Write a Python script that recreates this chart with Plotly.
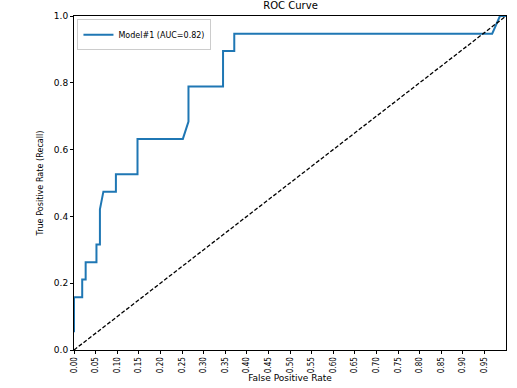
import plotly.graph_objects as go

fpr = [0.0, 0.0, 0.0, 0.019, 0.019, 0.027, 0.027, 0.052, 0.052, 0.060, 0.060, 0.068,
       0.097, 0.097, 0.147, 0.147, 0.252, 0.265, 0.265, 0.345, 0.345, 0.371, 0.371,
       0.968, 0.986, 1.0]
tpr = [0.0, 0.053, 0.158, 0.158, 0.211, 0.211, 0.263, 0.263, 0.316, 0.316, 0.421, 0.474,
       0.474, 0.526, 0.526, 0.632, 0.632, 0.684, 0.789, 0.789, 0.895, 0.895, 0.947,
       0.947, 1.0, 1.0]
diag_x = [0.0, 1.0]
diag_y = [0.0, 1.0]
x_ticks = [round(i * 0.05, 2) for i in range(20)]
y_ticks = [0.0, 0.2, 0.4, 0.6, 0.8, 1.0]

fig = go.Figure()
fig.add_trace(go.Scatter(x=fpr[1:], y=tpr[1:], mode="lines", name="Model#1 (AUC=0.82)",
                         line=dict(color="#1f77b4", width=2)))
fig.add_trace(go.Scatter(x=diag_x, y=diag_y, mode="lines", showlegend=False,
                         line=dict(color="black", width=1.3, dash="4px,2px")))

font = "DejaVu Sans"
fig.update_layout(
    width=517, height=388,
    margin=dict(l=74, r=11, t=16, b=38, autoexpand=False),
    paper_bgcolor="white", plot_bgcolor="white",
    font=dict(family=font, size=9, color="black"),
    title=dict(text="ROC Curve", x=0.562, xanchor="center", y=0.986, yanchor="middle",
               pad=dict(t=0, b=0), automargin=False,
               font=dict(size=10, family=font)),
    showlegend=True,
    legend=dict(x=0.008, y=0.99, xanchor="left", yanchor="top",
                bordercolor="#cccccc", borderwidth=1, bgcolor="white",
                font=dict(size=8, family=font), tracegroupgap=0,
                itemwidth=30),
    xaxis=dict(range=[0, 1], tickvals=x_ticks, ticktext=[f"{v:.2f}" for v in x_ticks],
               tickangle=-90, ticks="outside", ticklen=3, tickcolor="black",
               showline=True, linecolor="black", linewidth=1, mirror=True,
               showgrid=False, zeroline=False, automargin=False,
               tickfont=dict(size=8, family="DejaVu Sans Condensed"),
               title=dict(text="False Positive Rate", standoff=2, font=dict(size=9))),
    yaxis=dict(range=[0, 1], tickvals=y_ticks, ticktext=[f"{v:.1f}" for v in y_ticks],
               ticks="outside", ticklen=3, tickcolor="black",
               showline=True, linecolor="black", linewidth=1, mirror=True,
               showgrid=False, zeroline=False, automargin=False,
               tickfont=dict(size=9),
               title=dict(text="True Positive Rate (Recall)", standoff=8,
                          font=dict(size=9, family="DejaVu Sans Condensed"))),
)
fig.write_html("out.html", config={"displayModeBar": False},
               post_script="document.body.style.margin='0';document.body.style.overflow='hidden';")
